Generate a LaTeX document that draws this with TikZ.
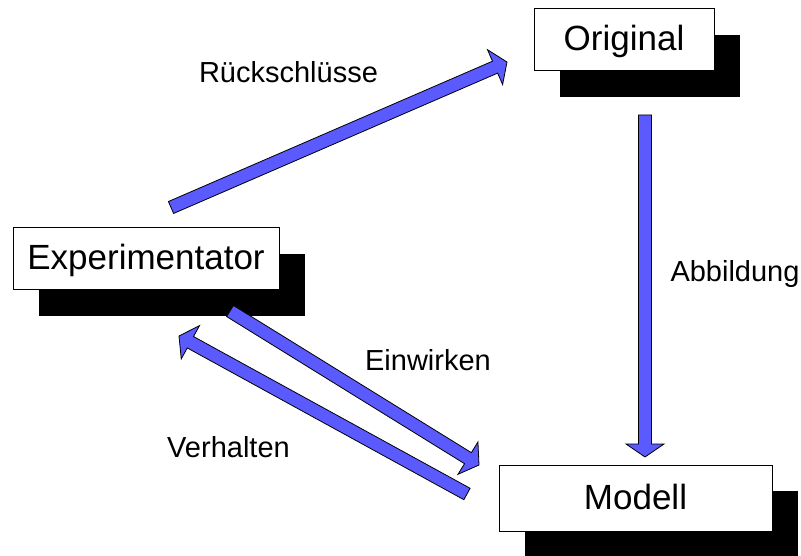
\documentclass[tikz,border=0pt]{standalone}
\usepackage{fontspec}
\setmainfont{Liberation Sans}
\usetikzlibrary{calc,shadows}
\definecolor{arrowblue}{RGB}{90,90,255}
\tikzset{
  box/.style={draw=black, line width=1pt, fill=white, inner sep=0pt,
    font=\fontsize{35}{40}\selectfont, text height=25pt, text depth=3pt,
    drop shadow={shadow xshift=26pt, shadow yshift=-26pt, fill=black, opacity=1}},
  lbl/.style={anchor=base, inner sep=0pt, font=\fontsize{29}{34}\selectfont},
  % block arrow: shaft half width 6.5, head half width 19, head length 13
  blockarrow/.style={draw=black, line width=0.8pt, fill=arrowblue, line join=miter,
    to path={
      let \p1=(\tikztostart), \p2=(\tikztotarget),
          \n1={veclen(\x2-\x1,\y2-\y1)},
          \n2={(\x2-\x1)/\n1}, \n3={(\y2-\y1)/\n1}
      in ({\x1-6.5*\n3},{\y1+6.5*\n2})
      -- ({\x2-13*\n2-6.5*\n3},{\y2-13*\n3+6.5*\n2})
      -- ({\x2-13*\n2-19*\n3},{\y2-13*\n3+19*\n2})
      -- (\x2,\y2)
      -- ({\x2-13*\n2+19*\n3},{\y2-13*\n3-19*\n2})
      -- ({\x2-13*\n2+6.5*\n3},{\y2-13*\n3-6.5*\n2})
      -- ({\x1+6.5*\n3},{\y1-6.5*\n2})
      -- cycle}}
}
\begin{document}
\begin{tikzpicture}[x=1pt,y=-1pt]
  \useasboundingbox (0,0) rectangle (801,556);

  % boxes
  \node[box, minimum width=180pt, minimum height=62pt] (orig) at (624,40) {Original};
  \node[box, minimum width=266pt, minimum height=62pt] (exp) at (146,259) {Experimentator};
  \node[box, minimum width=273pt, minimum height=66pt] (mod) at (635.5,498) {Modell};

  % arrow ends
  \coordinate (rsA) at (171,207.5);
  \coordinate (rsB) at (507,62);
  \coordinate (abA) at (645,115);
  \coordinate (abB) at (645,457);
  \coordinate (ewA) at (230,311);
  \coordinate (ewB) at (479,465);
  \coordinate (vhA) at (467,494);
  \coordinate (vhB) at (179,336);

  % arrows
  \draw[blockarrow] (rsA) to (rsB);
  \draw[blockarrow] (abA) to (abB);
  \draw[blockarrow] (ewA) to (ewB);
  \draw[blockarrow] (vhA) to (vhB);

  % labels
  \node[lbl] (lrs) at (288.5,83) {Rückschlüsse};
  \node[lbl] (lab) at (735,282) {Abbildung};
  \node[lbl] (lew) at (428,370) {Einwirken};
  \node[lbl] (lvh) at (228.5,457) {Verhalten};
\end{tikzpicture}
\end{document}
